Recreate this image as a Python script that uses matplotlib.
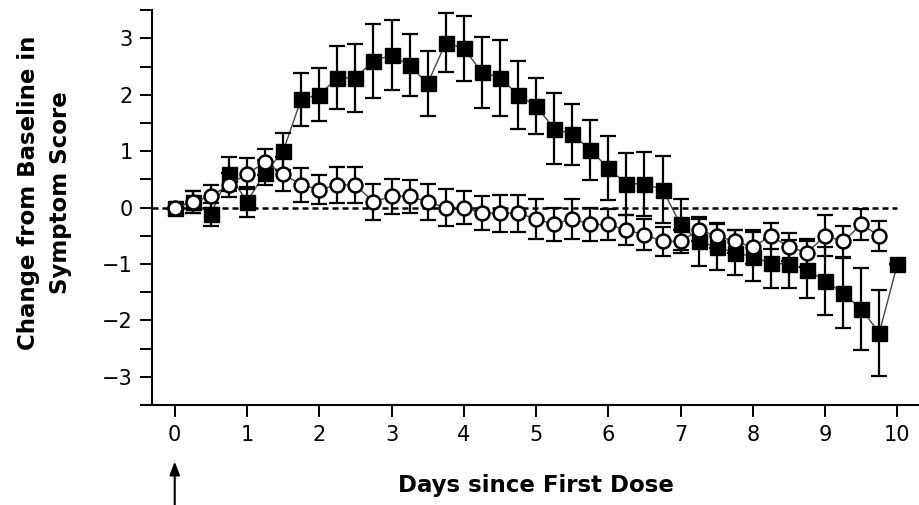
"""
Change from baseline in symptom score vs days since first dose
"""

import matplotlib.pyplot as plt
import numpy as np

plt.rcParams["font.family"] = ["DejaVu Sans"]

# days, every quarter day
days_sq = [0.0, 0.25, 0.5, 0.75, 1.0, 1.25, 1.5, 1.75, 2.0, 2.25, 2.5, 2.75,
           3.0, 3.25, 3.5, 3.75, 4.0, 4.25, 4.5, 4.75, 5.0, 5.25, 5.5, 5.75,
           6.0, 6.25, 6.5, 6.75, 7.0, 7.25, 7.5, 7.75, 8.0, 8.25, 8.5, 8.75,
           9.0, 9.25, 9.5, 9.75, 10.0]
days_ci = days_sq[:-1]

# filled squares
sq_mean = [0.0, 0.1, -0.12, 0.6, 0.1, 0.62, 1.0, 1.92, 2.0, 2.3, 2.3, 2.6,
           2.7, 2.52, 2.2, 2.92, 2.82, 2.4, 2.3, 2.0, 1.8, 1.4, 1.3, 1.02,
           0.7, 0.42, 0.42, 0.32, -0.3, -0.6, -0.7, -0.8, -0.87, -0.99, -1.0, -1.1,
           -1.3, -1.52, -1.8, -2.22, -1.0]
sq_err = [0.0, 0.2, 0.2, 0.3, 0.27, 0.22, 0.33, 0.47, 0.47, 0.56, 0.6, 0.65,
          0.62, 0.55, 0.57, 0.52, 0.58, 0.63, 0.67, 0.6, 0.5, 0.63, 0.54, 0.53,
          0.56, 0.55, 0.57, 0.6, 0.46, 0.44, 0.4, 0.4, 0.43, 0.43, 0.42, 0.5,
          0.6, 0.62, 0.73, 0.76, 0.0]

# open circles
ci_mean = [0.0, 0.1, 0.2, 0.4, 0.6, 0.8, 0.6, 0.4, 0.32, 0.4, 0.4, 0.1,
           0.2, 0.2, 0.1, 0.0, 0.0, -0.1, -0.1, -0.1, -0.2, -0.3, -0.2, -0.3,
           -0.3, -0.4, -0.48, -0.6, -0.6, -0.4, -0.5, -0.6, -0.7, -0.5, -0.7, -0.8,
           -0.5, -0.6, -0.3, -0.5]
ci_err = [0.0, 0.2, 0.2, 0.22, 0.27, 0.23, 0.3, 0.3, 0.26, 0.32, 0.32, 0.32,
          0.31, 0.29, 0.32, 0.33, 0.3, 0.3, 0.33, 0.33, 0.35, 0.3, 0.35, 0.3,
          0.27, 0.27, 0.27, 0.26, 0.2, 0.2, 0.22, 0.2, 0.3, 0.23, 0.25, 0.25,
          0.36, 0.27, 0.27, 0.27]

x_ticks = list(range(0, 11))
y_ticks = [-3, -2, -1, 0, 1, 2, 3]
y_ticklabels = ["\u22123", "\u22122", "\u22121", "0", "1", "2", "3"]

fig = plt.figure(figsize=(9.2, 5.05), dpi=100)
ax = fig.add_axes([0.153, 0.198, 0.846, 0.782])

ax.set_xlim(-0.47, 10.3)
ax.set_ylim(-3.5, 3.5)

ax.hlines(0, -0.32, 10, colors="black", linestyles=(0, (2.4, 1.6)), linewidth=1.8, zorder=1)

# squares
ax.plot(days_sq, sq_mean, "-", color="#444444", linewidth=1.0, zorder=2)
ax.errorbar(days_sq, sq_mean, yerr=sq_err, fmt="none", ecolor="black",
            elinewidth=1.6, capsize=5.5, capthick=1.6, zorder=3)
ax.plot(days_sq, sq_mean, "s", color="black", markersize=10.8, zorder=4)

# circles
ax.plot(days_ci, ci_mean, "-", color="#444444", linewidth=1.0, zorder=5)
ax.errorbar(days_ci, ci_mean, yerr=ci_err, fmt="none", ecolor="black",
            elinewidth=1.6, capsize=5.5, capthick=1.6, zorder=6)
ax.plot(days_ci, ci_mean, "o", markerfacecolor="white", markeredgecolor="black",
        markeredgewidth=1.8, markersize=10, zorder=7)

ax.spines["top"].set_visible(False)
ax.spines["right"].set_visible(False)
ax.spines["left"].set_position(("data", -0.32))
ax.spines["left"].set_linewidth(1.5)
ax.spines["bottom"].set_linewidth(1.5)

ax.set_xticks(x_ticks)
ax.set_yticks(y_ticks)
ax.set_yticks(np.arange(-3.5, 3.6, 0.5), minor=True)
ax.tick_params(axis="both", which="both", direction="out", length=8.5, width=1.4,
               labelsize=15, pad=5)
ax.tick_params(axis="x", pad=6)
ax.tick_params(axis="y", which="minor", labelleft=False)
ax.set_yticklabels(y_ticklabels)

ax.set_xlabel("Days since First Dose", fontsize=16.5, fontweight="bold")
ax.xaxis.set_label_coords(0.508, -0.175)
ax.xaxis.label.set_va("top")

fig.text(45 / 920, 1 - 193 / 505, "Change from Baseline in\nSymptom Score",
         rotation=90, ha="center", va="center", multialignment="center",
         fontsize=16.5, fontweight="bold", linespacing=1.5)

ax.annotate("", xy=(0, -4.45), xytext=(0, -5.5),
            arrowprops=dict(arrowstyle="-|>,head_length=0.8,head_width=0.3",
                            color="black", linewidth=1.5),
            annotation_clip=False)

fig.savefig("out.png", dpi=100)
